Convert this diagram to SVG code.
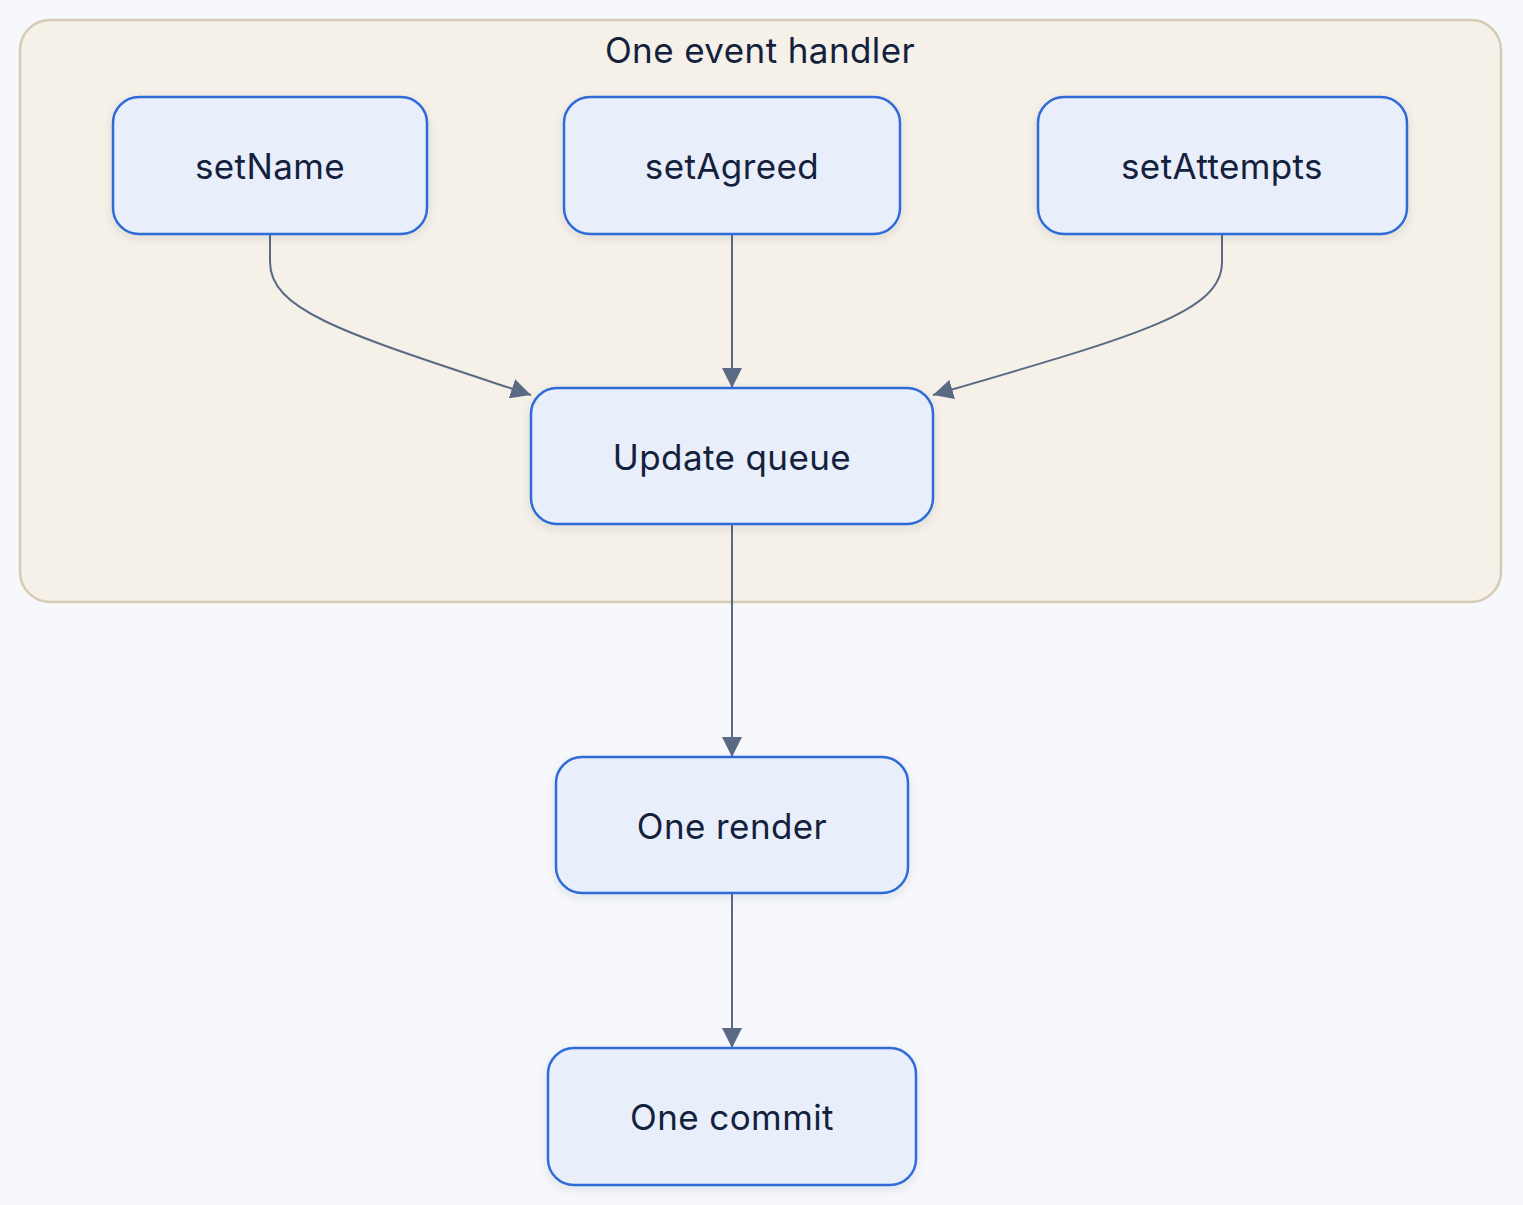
<svg xmlns="http://www.w3.org/2000/svg" width="1523" height="1205" viewBox="0 0 1523 1205">
<defs>
<style>
.bg{fill:#f6f8fc}
.cluster{fill:#f5f0e8;stroke:#d6cbb3;stroke-width:2.5}
.node rect{fill:#e8eefa;stroke:#2f6bd8;stroke-width:2.5;filter:url(#sh)}
.lbl{font-family:Inter,"Noto Sans","Liberation Sans",sans-serif;font-size:35px;letter-spacing:0.4px;fill:#14213d;text-anchor:middle;dominant-baseline:central}
.edge{fill:none;stroke:#5a6a85;stroke-width:2;marker-end:url(#arr)}
</style>
<filter id="sh" x="-20%" y="-20%" width="140%" height="150%">
<feDropShadow dx="0" dy="3" stdDeviation="5" flood-color="#1e2a40" flood-opacity="0.10"/>
</filter>
<marker id="arr" viewBox="0 0 10 10" refX="10" refY="5" markerWidth="20" markerHeight="20" markerUnits="userSpaceOnUse" orient="auto">
<path d="M0,0 L10,5 L0,10 z" fill="#5a6a85"/>
</marker>
</defs>
<rect class="bg" x="0" y="0" width="1523" height="1205"/>
<g id="cluster-handler">
<rect class="cluster" x="20" y="20" width="1481" height="582" rx="30"/>
<text class="lbl" x="760" y="50">One event handler</text>
</g>
<g id="connectors">
<path class="edge" d="M270,235 V262 C270,312 350,335 531,395"/>
<path class="edge" d="M732,235 V388"/>
<path class="edge" d="M1222,235 V262 C1222,312 1140,335 933,395"/>
<path class="edge" d="M732,525 V757"/>
<path class="edge" d="M732,894 V1048"/>
</g>
<g id="setName" class="node">
<rect x="113" y="97" width="314" height="137" rx="26"/>
<text class="lbl" x="270" y="166">setName</text>
</g>
<g id="setAgreed" class="node">
<rect x="564" y="97" width="336" height="137" rx="26"/>
<text class="lbl" x="732" y="166">setAgreed</text>
</g>
<g id="setAttempts" class="node">
<rect x="1038" y="97" width="369" height="137" rx="26"/>
<text class="lbl" x="1222" y="166">setAttempts</text>
</g>
<g id="updateQueue" class="node">
<rect x="531" y="388" width="402" height="136" rx="26"/>
<text class="lbl" x="732" y="457">Update queue</text>
</g>
<g id="oneRender" class="node">
<rect x="556" y="757" width="352" height="136" rx="26"/>
<text class="lbl" x="732" y="826">One render</text>
</g>
<g id="oneCommit" class="node">
<rect x="548" y="1048" width="368" height="137" rx="26"/>
<text class="lbl" x="732" y="1117">One commit</text>
</g>
</svg>
